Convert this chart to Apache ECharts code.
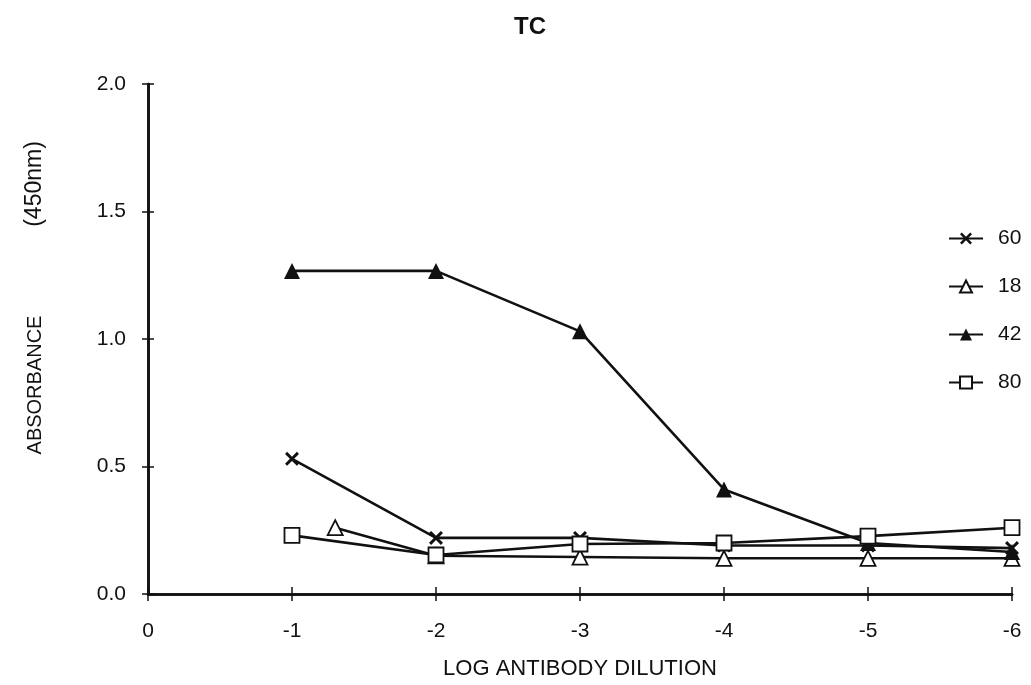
<!DOCTYPE html>
<html>
<head>
<meta charset="utf-8">
<script src="https://cdn.jsdelivr.net/npm/echarts@6/dist/echarts.min.js"></script>
<style>html,body{margin:0;padding:0;background:#fff}#c{width:1031px;height:685px}</style>
</head>
<body>
<div id="c"></div>
<script>
var xTicks = [0, -1, -2, -3, -4, -5, -6];
var yTicks = [0.0, 0.5, 1.0, 1.5, 2.0];
var names = ['60', '18', '42', '80'];
var x60 = [-1, -2, -3, -4, -5, -6];
var y60 = [0.53, 0.22, 0.22, 0.19, 0.19, 0.18];
var x18 = [-1.3, -2, -3, -4, -5, -6];
var y18 = [0.26, 0.15, 0.145, 0.14, 0.14, 0.14];
var x42 = [-1, -2, -3, -4, -5, -6];
var y42 = [1.267, 1.267, 1.03, 0.41, 0.2, 0.165];
var x80 = [-1, -2, -3, -4, -5, -6];
var y80 = [0.23, 0.153, 0.196, 0.2, 0.227, 0.26];

function pairs(xs, ys) { return xs.map(function (x, i) { return [x, ys[i]]; }); }

var crossPath = 'path://M0,1.5L1.5,0L5,3.5L8.5,0L10,1.5L6.5,5L10,8.5L8.5,10L5,6.5L1.5,10L0,8.5L3.5,5Z';
var font = 'Liberation Sans, Arial, sans-serif';

function mk(name, data, symbol, fill, size) {
  return {
    name: name, type: 'line', data: data, symbol: symbol, symbolSize: size,
    lineStyle: { color: '#111', width: 2.6 },
    itemStyle: { color: fill, borderColor: '#111', borderWidth: fill === '#fff' ? 1.8 : 0 },
    emphasis: { disabled: true }, animation: false, z: 3
  };
}

var chart = echarts.init(document.getElementById('c'));
var baseX = {
  type: 'value', min: -6, max: 0, interval: 1, inverse: true,
  axisLine: { show: true, onZero: false, lineStyle: { color: '#111', width: 2.6 } },
  splitLine: { show: false }
};
var baseY = {
  type: 'value', min: 0, max: 2, interval: 0.5,
  axisLine: { show: true, onZero: false, lineStyle: { color: '#111', width: 2.6 } },
  splitLine: { show: false }
};
chart.setOption({
  backgroundColor: '#fff',
  title: { text: 'TC', left: 509, top: 10, textStyle: { fontFamily: font, fontWeight: 'bold', fontSize: 24, color: '#111' } },
  legend: {
    orient: 'vertical', left: 943, top: 223, itemGap: 27, itemWidth: 34, itemHeight: 15,
    data: names,
    textStyle: { fontFamily: font, fontSize: 21, color: '#111', padding: [0, 0, 0, 10] },
    selectedMode: false
  },
  graphic: [
    { type: 'text', x: 35, y: 385, rotation: Math.PI / 2, style: { text: 'ABSORBANCE', font: '20px ' + font, fill: '#111', align: 'center', verticalAlign: 'middle' } },
    { type: 'text', x: 35, y: 184, rotation: Math.PI / 2, style: { text: '(450nm)', font: '23px ' + font, fill: '#111', align: 'center', verticalAlign: 'middle' } }
  ],
  grid: { left: 148, right: 19, top: 84, bottom: 91 },
  xAxis: [
    Object.assign({}, baseX, {
      axisTick: { show: true, length: 7, lineStyle: { color: '#111', width: 1.5 } },
      axisLabel: { fontFamily: font, fontSize: 21, color: '#111', margin: 27, formatter: function (v) { return String(v); } },
      name: 'LOG ANTIBODY DILUTION', nameLocation: 'middle', nameGap: 64,
      nameTextStyle: { fontFamily: font, fontSize: 22, color: '#111', verticalAlign: 'top' }
    }),
    Object.assign({}, baseX, {
      position: 'bottom',
      axisTick: { show: true, inside: true, length: 7, lineStyle: { color: '#111', width: 1.5 } },
      axisLabel: { show: false }
    })
  ],
  yAxis: [
    Object.assign({}, baseY, {
      axisTick: { show: true, length: 6, lineStyle: { color: '#111', width: 1.5 } },
      axisLabel: { fontFamily: font, fontSize: 21, color: '#111', margin: 22, formatter: function (v) { return v.toFixed(1); } }
    }),
    Object.assign({}, baseY, {
      position: 'left',
      axisTick: { show: true, inside: true, length: 6, lineStyle: { color: '#111', width: 1.5 } },
      axisLabel: { show: false }
    })
  ],
  series: [
    mk('60', pairs(x60, y60), crossPath, '#111', 14),
    mk('18', pairs(x18, y18), 'triangle', '#fff', 15),
    mk('42', pairs(x42, y42), 'triangle', '#111', 16),
    mk('80', pairs(x80, y80), 'rect', '#fff', 15)
  ]
});
</script>
</body>
</html>
